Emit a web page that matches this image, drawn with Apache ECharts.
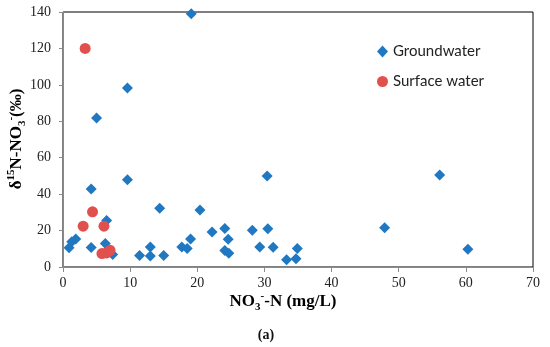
<!DOCTYPE html>
<html><head><meta charset="utf-8">
<script src="https://cdn.jsdelivr.net/npm/echarts@6/dist/echarts.min.js"></script>
<style>html,body{margin:0;padding:0;background:#fff}#c{width:550px;height:347px}</style>
</head><body><div id="c"></div>
<script>
var gwX = [0.9,1.3,1.9,4.2,4.2,5.0,6.5,6.3,7.4,9.6,9.6,11.4,13.0,13.0,14.4,15.0,17.7,18.5,19.0,19.1,20.4,22.2,24.1,24.6,24.1,24.7,28.2,29.3,30.4,30.5,31.3,33.3,34.7,34.9,47.9,56.1,60.3];
var gwY = [10.6,13.8,15.4,42.8,10.7,81.8,25.5,12.9,6.8,98.3,47.9,6.3,11,6.1,32.2,6.3,11,10.1,15.4,139,31.3,19.2,21.1,15.2,9.0,7.5,20.2,11,49.9,21.0,10.8,4.0,4.5,10.1,21.5,50.5,9.7];
var swX = [3.3,4.4,3.0,6.1,5.8,6.5,7.0];
var swY = [120,30.3,22.4,22.4,7.4,7.7,9.2];
var xTicks = [0,10,20,30,40,50,60,70];
var yTicks = [0,20,40,60,80,100,120,140];

function pairs(xs, ys){ return xs.map(function(v,i){return [v, ys[i]];}); }

var serif = "'Liberation Serif','Times New Roman',serif";
var chart = echarts.init(document.getElementById('c'), null, {renderer:'canvas'});
chart.setOption({
  animation:false,
  backgroundColor:'#fff',
  grid:{left:63, right:17, top:12, bottom:80, show:true, borderColor:'#000', borderWidth:1},
  xAxis:{type:'value', min:xTicks[0], max:xTicks[xTicks.length-1], interval:10,
    axisLine:{show:true, lineStyle:{color:'#8a8a8a', width:1}},
    axisTick:{show:true, length:5, lineStyle:{color:'#8a8a8a'}},
    axisLabel:{fontFamily:serif, fontSize:14, color:'#222', margin:9},
    splitLine:{show:false}},
  yAxis:{type:'value', min:yTicks[0], max:yTicks[yTicks.length-1], interval:20,
    axisLine:{show:true, lineStyle:{color:'#8a8a8a', width:1}},
    axisTick:{show:true, length:4, lineStyle:{color:'#8a8a8a'}},
    axisLabel:{fontFamily:serif, fontSize:14, color:'#222', margin:12},
    splitLine:{show:false}},
  legend:{orient:'vertical', left:377, top:44, padding:0, itemGap:15, itemWidth:11, itemHeight:12,
    textStyle:{fontFamily:"Lato,'Liberation Sans',sans-serif", fontSize:15, color:'#222'},
    data:[{name:'Groundwater', icon:'diamond'},{name:'Surface water', icon:'circle'}]},
  series:[
    {name:'Groundwater', type:'scatter', symbol:'diamond', symbolSize:11, itemStyle:{color:'#1f78c1', opacity:1}, data:pairs(gwX,gwY)},
    {name:'Surface water', type:'scatter', symbol:'circle', symbolSize:11, itemStyle:{color:'#e0504d', opacity:1}, data:pairs(swX,swY)}
  ],
  graphic:[
    {type:'text', x:283, y:302, style:{
      text:'{m|NO}{sub|3}{sup|-}{m|-N (mg/L)}', align:'center', verticalAlign:'middle',
      rich:{
        m:{fontFamily:serif, fontWeight:'bold', fontSize:17, color:'#111', lineHeight:22, verticalAlign:'middle'},
        sub:{fontFamily:serif, fontWeight:'bold', fontSize:11, color:'#111', lineHeight:22, verticalAlign:'bottom'},
        sup:{fontFamily:serif, fontWeight:'bold', fontSize:11, color:'#111', lineHeight:22, verticalAlign:'top'}
      }}},
    {type:'text', x:266, y:335, style:{text:'(a)', fontFamily:serif, fontWeight:'bold', fontSize:14, fill:'#111', align:'center', verticalAlign:'middle'}},
    {type:'text', x:17, y:139, rotation:Math.PI/2, style:{
      text:'{m|δ}{sup|15}{m|N-NO}{sub|3}{sup|-}{m|(‰)}', align:'center', verticalAlign:'middle',
      rich:{
        m:{fontFamily:serif, fontWeight:'bold', fontSize:17, color:'#111', lineHeight:22, verticalAlign:'middle'},
        sub:{fontFamily:serif, fontWeight:'bold', fontSize:11, color:'#111', lineHeight:22, verticalAlign:'bottom'},
        sup:{fontFamily:serif, fontWeight:'bold', fontSize:11, color:'#111', lineHeight:22, verticalAlign:'top'}
      }}}
  ]
});
</script></body></html>
